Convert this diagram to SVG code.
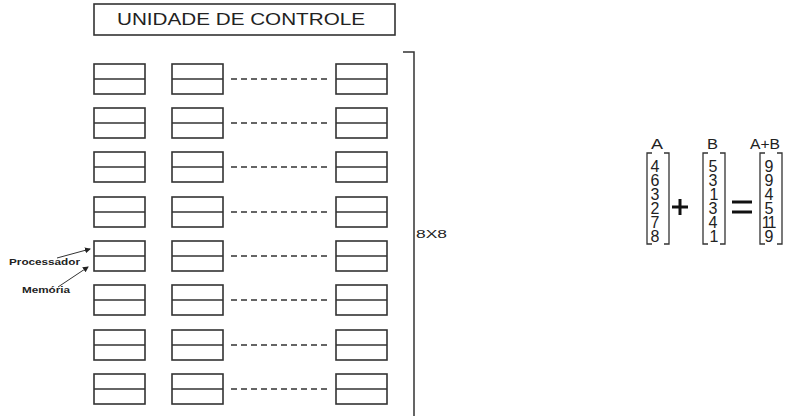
<svg xmlns="http://www.w3.org/2000/svg" width="790" height="416" viewBox="0 0 790 416">
<defs>
<style>
.box{fill:#fff;stroke:#333;stroke-width:1.6}
.ln{stroke:#333;stroke-width:1.5;fill:none}
.thin{stroke:#333;stroke-width:1;fill:none}
.bold{stroke:#111;stroke-width:3;fill:none}
.dash{stroke:#333;stroke-width:1.3;stroke-dasharray:6,4;fill:none}
.t{font-family:"Liberation Sans",Arial,sans-serif;fill:#222}
.br{stroke:#333;stroke-width:1.3;fill:none}
.dg{font-family:"Liberation Sans",Arial,sans-serif;font-size:16px;fill:#222;text-anchor:middle}
</style>
<marker id="ah" markerWidth="6" markerHeight="6" refX="5" refY="3" orient="auto" markerUnits="userSpaceOnUse">
<path d="M0,0 L6,3 L0,6 Z" fill="#222"/>
</marker>
<g id="cell"><rect class="box" x="0" y="0" width="51" height="30"/><line class="ln" x1="0" y1="15" x2="51" y2="15"/></g>
</defs>
<rect width="790" height="416" fill="#fff"/>
<g id="unidade">
<rect class="box" x="94" y="4" width="301" height="31"/>
<text class="t" x="117" y="25" font-size="16" textLength="248" lengthAdjust="spacingAndGlyphs">UNIDADE DE CONTROLE</text>
</g>
<g id="grid">
<g id="row1" transform="translate(0,64)"><use href="#cell" x="94"/><use href="#cell" x="172"/><use href="#cell" x="336"/></g>
<g id="row2" transform="translate(0,108)"><use href="#cell" x="94"/><use href="#cell" x="172"/><use href="#cell" x="336"/></g>
<g id="row3" transform="translate(0,152)"><use href="#cell" x="94"/><use href="#cell" x="172"/><use href="#cell" x="336"/></g>
<g id="row4" transform="translate(0,197)"><use href="#cell" x="94"/><use href="#cell" x="172"/><use href="#cell" x="336"/></g>
<g id="row5" transform="translate(0,241)"><use href="#cell" x="94"/><use href="#cell" x="172"/><use href="#cell" x="336"/></g>
<g id="row6" transform="translate(0,285)"><use href="#cell" x="94"/><use href="#cell" x="172"/><use href="#cell" x="336"/></g>
<g id="row7" transform="translate(0,330)"><use href="#cell" x="94"/><use href="#cell" x="172"/><use href="#cell" x="336"/></g>
<g id="row8" transform="translate(0,374)"><use href="#cell" x="94"/><use href="#cell" x="172"/><use href="#cell" x="336"/></g>
</g>
<g id="connectors">
<line class="dash" x1="231" y1="79" x2="330" y2="79"/>
<line class="dash" x1="231" y1="123" x2="330" y2="123"/>
<line class="dash" x1="231" y1="167" x2="330" y2="167"/>
<line class="dash" x1="231" y1="212" x2="330" y2="212"/>
<line class="dash" x1="231" y1="256" x2="330" y2="256"/>
<line class="dash" x1="231" y1="300" x2="330" y2="300"/>
<line class="dash" x1="231" y1="345" x2="330" y2="345"/>
<line class="dash" x1="231" y1="389" x2="330" y2="389"/>
<line class="thin" x1="57" y1="258" x2="90" y2="249" marker-end="url(#ah)"/>
<line class="thin" x1="58" y1="287" x2="88" y2="267" marker-end="url(#ah)"/>
</g>
<g id="brace">
<polyline class="ln" points="403,52 414,52 414,416"/>
<text class="t" x="416" y="238" font-size="10" textLength="31" lengthAdjust="spacingAndGlyphs">8X8</text>
</g>
<g id="labels">
<text class="t" x="9" y="265" font-size="9" font-weight="bold" textLength="71" lengthAdjust="spacingAndGlyphs">Processador</text>
<text class="t" x="22" y="293" font-size="9" font-weight="bold" textLength="48" lengthAdjust="spacingAndGlyphs">Memória</text>
</g>
<g id="matrices">
<text class="t" x="651" y="149" font-size="14" textLength="12" lengthAdjust="spacingAndGlyphs">A</text>
<text class="t" x="707" y="149" font-size="14" textLength="11" lengthAdjust="spacingAndGlyphs">B</text>
<text class="t" x="750" y="149" font-size="14" textLength="30" lengthAdjust="spacingAndGlyphs">A+B</text>
<g id="matA">
<polyline class="br" points="652,153 647,153 647,244 652,244"/>
<polyline class="br" points="664,153 669,153 669,244 664,244"/>
<text class="dg" x="655" y="172">4</text>
<text class="dg" x="655" y="186">6</text>
<text class="dg" x="655" y="200">3</text>
<text class="dg" x="655" y="214">2</text>
<text class="dg" x="655" y="228">7</text>
<text class="dg" x="655" y="242">8</text>
</g>
<g id="plus"><line class="bold" x1="672" y1="207" x2="688" y2="207"/><line class="bold" x1="680" y1="199" x2="680" y2="215"/></g>
<g id="matB">
<polyline class="br" points="708,153 703,153 703,244 708,244"/>
<polyline class="br" points="720,153 725,153 725,244 720,244"/>
<text class="dg" x="713" y="172">5</text>
<text class="dg" x="713" y="186">3</text>
<text class="dg" x="714" y="200">1</text>
<text class="dg" x="713" y="214">3</text>
<text class="dg" x="713" y="228">4</text>
<text class="dg" x="714" y="242">1</text>
</g>
<g id="equals"><line class="bold" x1="732" y1="202" x2="752" y2="202"/><line class="bold" x1="732" y1="212" x2="752" y2="212"/></g>
<g id="matAB">
<polyline class="br" points="765,153 760,153 760,244 765,244"/>
<polyline class="br" points="777,153 782,153 782,244 777,244"/>
<text class="dg" x="769" y="172">9</text>
<text class="dg" x="769" y="186">9</text>
<text class="dg" x="769" y="200">4</text>
<text class="dg" x="769" y="214">5</text>
<text class="dg" x="768" y="228" letter-spacing="-2">11</text>
<text class="dg" x="769" y="242">9</text>
</g>
</g>
</svg>
